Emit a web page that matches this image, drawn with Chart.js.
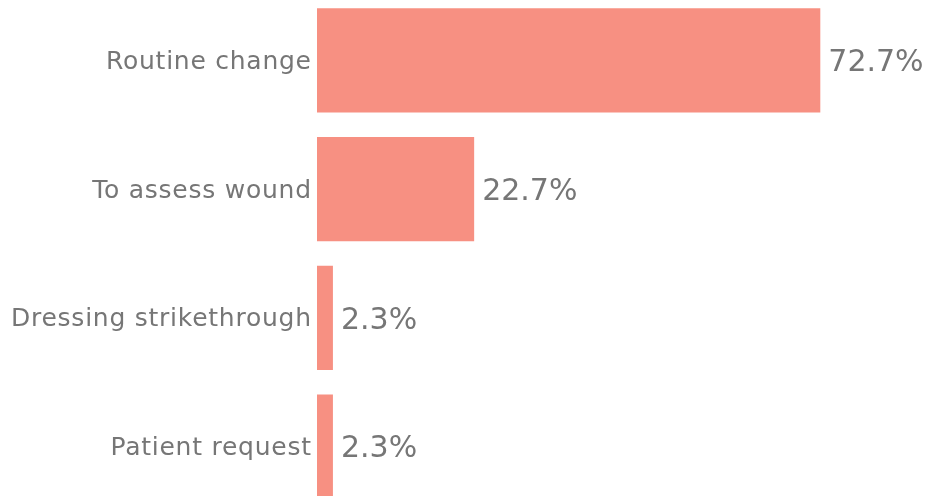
<!DOCTYPE html>
<html>
<head>
<meta charset="utf-8">
<script src="https://cdn.jsdelivr.net/npm/chart.js@4"></script>
<style>
  html, body { margin: 0; padding: 0; background: #fff; overflow: hidden; }
  #wrap { position: absolute; left: 0; top: -4px; width: 929px; height: 515px; }
</style>
</head>
<body>
<div id="wrap"><canvas id="reasonsChart"></canvas></div>
<script>
// reasons for dressing change
var reasons = ['Routine change', 'To assess wound', 'Dressing strikethrough', 'Patient request'];
var percents = [72.7, 22.7, 2.3, 2.3];

var textGrey = '#767676';

// category names left of the bars and values at the end of each bar
var barLabels = {
    id: 'barLabels',
    afterDatasetsDraw: function (chart) {
        var ctx = chart.ctx;
        var meta = chart.getDatasetMeta(0);
        var left = chart.chartArea.left;
        ctx.save();
        ctx.fillStyle = textGrey;
        ctx.textBaseline = 'middle';
        meta.data.forEach(function (bar, i) {
            // name
            ctx.font = '25px "DejaVu Sans"';
            ctx.letterSpacing = '0.75px';
            ctx.textAlign = 'right';
            ctx.fillText(reasons[i], left - 6 + 0.75, bar.y + 2);
            // value
            ctx.font = '30px "DejaVu Sans"';
            ctx.letterSpacing = '0px';
            ctx.textAlign = 'left';
            ctx.fillText(percents[i].toFixed(1) + '%', bar.x + 8, bar.y + 3);
        });
        ctx.restore();
    }
};

var ctx = document.getElementById('reasonsChart').getContext('2d');
var reasonsChart = new Chart(ctx, {
    type: 'bar',
    data: {
        labels: reasons,
        datasets: [{
            data: percents,
            backgroundColor: '#F79082',
            borderWidth: 0,
            barPercentage: 0.808,
            categoryPercentage: 1
        }]
    },
    options: {
        indexAxis: 'y',
        responsive: true,
        maintainAspectRatio: false,
        animation: false,
        layout: { padding: 0 },
        plugins: {
            legend: { display: false },
            tooltip: { enabled: false }
        },
        scales: {
            x: {
                display: false,
                min: 0,
                max: 88.4
            },
            y: {
                grid: { display: false, drawTicks: false },
                border: { display: false },
                ticks: { display: false },
                afterFit: function (scale) {
                    scale.width = 317;
                }
            }
        }
    },
    plugins: [barLabels]
});
</script>
</body>
</html>
